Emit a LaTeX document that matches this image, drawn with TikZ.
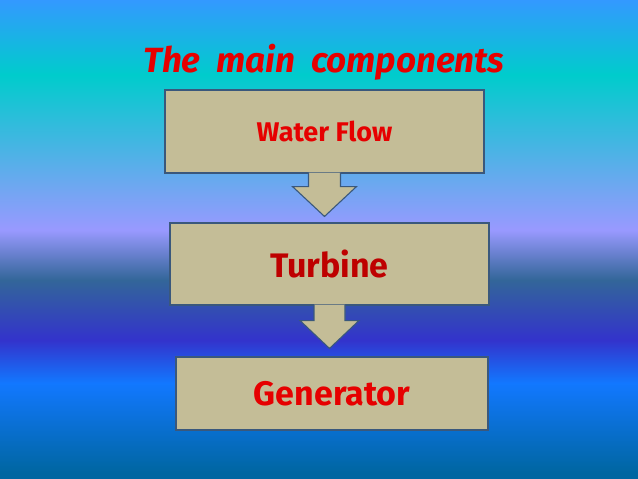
\documentclass[tikz,border=0pt]{standalone}
\usepackage{fontspec}
\setmainfont{Fira Sans}
\newfontfamily\titlefont[WordSpace=2]{Fira Sans}
\usetikzlibrary{calc}

\definecolor{boxfill}{RGB}{196,189,151}
\definecolor{boxline}{RGB}{58,88,124}
\definecolor{textred}{RGB}{230,0,0}
\definecolor{darkred}{RGB}{190,0,0}

\pgfdeclareverticalshading{panelshade}{100bp}{%
  rgb(0bp)=(0,0.40,0.63);
  rgb(25.6bp)=(0,0.40,0.63);
  rgb(35.0bp)=(0.07,0.47,1);
  rgb(39.5bp)=(0.2,0.2,0.8);
  rgb(45.8bp)=(0.2,0.4,0.6);
  rgb(51.0bp)=(0.6,0.6,1);
  rgb(67.2bp)=(0,0.8,0.8);
  rgb(75bp)=(0.2,0.6,1);
  rgb(100bp)=(0.2,0.6,1)}

\begin{document}
\begin{tikzpicture}[x=1pt,y=-1pt,
  comp box/.style={rectangle,draw=boxline,line width=1.1pt,fill=boxfill,inner sep=0pt},
  flow arrow/.style={draw=boxline,line width=1.1pt,fill=boxfill,line join=miter},
  title text/.style={font=\titlefont\bfseries\itshape\fontsize{35}{40}\selectfont,textred}]

  \useasboundingbox (0,0) rectangle (638,479);
  \shade[shading=panelshade] (0,0) rectangle (638,479);

  \node[title text,anchor=base] (title) at (324,72) {The main components};

  \node[comp box,minimum width=319pt,minimum height=83pt] (water) at (324.5,131.5)
    {\bfseries\fontsize{27}{32}\selectfont\color{textred}Water Flow};
  \node[comp box,minimum width=319pt,minimum height=82pt] (turbine) at (329.5,264)
    {\bfseries\fontsize{34}{38}\selectfont\color{darkred}Turbine};
  \node[comp box,minimum width=312pt,minimum height=73pt] (generator) at (332,393.5)
    {\bfseries\fontsize{34}{38}\selectfont\color{textred}Generator};

  % block arrows between the boxes
  \path[flow arrow]
    ($(water.south)+(-16,-1)$) -- ($(water.south)+(-16,13)$) -- ($(water.south)+(-32,13)$)
    -- ($(water.south |- turbine.north)+(0,-6)$)
    -- ($(water.south)+(32,13)$) -- ($(water.south)+(16,13)$) -- ($(water.south)+(16,-1)$);
  \path[flow arrow]
    ($(turbine.south)+(-15.5,-1)$) -- ($(turbine.south)+(-15.5,15)$) -- ($(turbine.south)+(-29.5,15)$)
    -- ($(turbine.south |- generator.north)+(0,-8)$)
    -- ($(turbine.south)+(29.5,15)$) -- ($(turbine.south)+(15.5,15)$) -- ($(turbine.south)+(15.5,-1)$);
\end{tikzpicture}
\end{document}
